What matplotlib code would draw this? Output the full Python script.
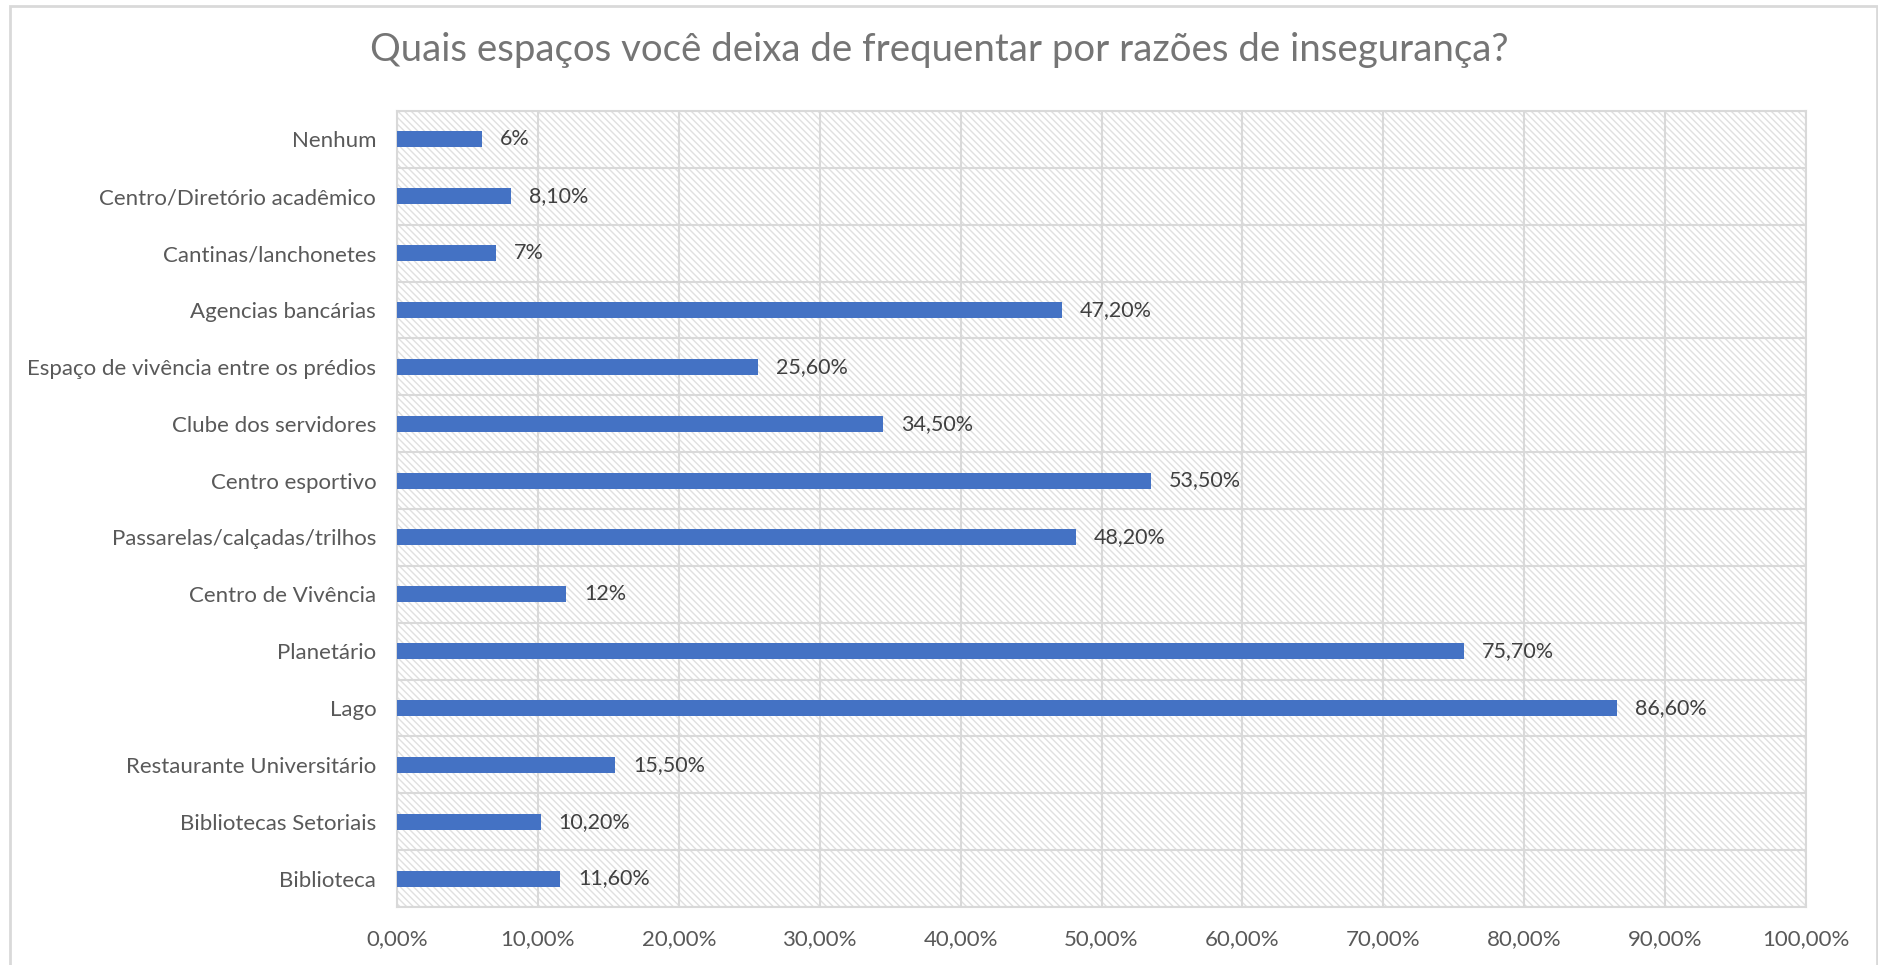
import matplotlib.pyplot as plt
from matplotlib.patches import Rectangle
import numpy as np

# dados (de baixo para cima)
categorias = ['Biblioteca', 'Bibliotecas Setoriais', 'Restaurante Universitário', 'Lago',
              'Planetário', 'Centro de Vivência', 'Passarelas/calçadas/trilhos',
              'Centro esportivo', 'Clube dos servidores', 'Espaço de vivência entre os prédios',
              'Agencias bancárias', 'Cantinas/lanchonetes', 'Centro/Diretório acadêmico', 'Nenhum']
valores = [11.6, 10.2, 15.5, 86.6, 75.7, 12, 48.2, 53.5, 34.5, 25.6, 47.2, 7, 8.1, 6]
rotulos = ['11,60%', '10,20%', '15,50%', '86,60%', '75,70%', '12%', '48,20%',
           '53,50%', '34,50%', '25,60%', '47,20%', '7%', '8,10%', '6%']
xticks = np.arange(0, 101, 10)
xlabels = ['%d,00%%' % t for t in xticks]

plt.rcParams['font.family'] = ['Lato', 'DejaVu Sans']
plt.rcParams['hatch.linewidth'] = 1.0

fig = plt.figure(figsize=(18.78, 9.65), dpi=100)
# borda externa
fig.patches.append(Rectangle((10 / 1878, -0.01), 1 - 11.5 / 1878, 1 - 6 / 965 + 0.01,
                             transform=fig.transFigure, fill=False,
                             edgecolor='#D9D9D9', lw=2))

ax = fig.add_axes([397 / 1878, 1 - 907 / 965, 1409 / 1878, 796 / 965])
y = np.arange(len(categorias))

# fundo hachurado
ax.add_patch(Rectangle((0, 0), 1, 1, transform=ax.transAxes, facecolor='white',
                       hatch='\\' * 5, edgecolor='#E0E0E0', lw=0, zorder=0))

ax.barh(y, valores, height=0.28, color='#4472C4', zorder=3)
for yi, v, r in zip(y, valores, rotulos):
    ax.annotate(r, (v, yi), xytext=(13, 0), textcoords='offset points',
                va='center', ha='left', fontsize=15.5, color='#404040')

ax.set_xlim(0, 100)
ax.set_ylim(-0.5, len(categorias) - 0.5)
ax.set_xticks(xticks)
ax.set_xticklabels(xlabels)
ax.set_yticks(y)
ax.set_yticklabels(categorias)
ax.set_yticks(np.arange(-0.5, len(categorias), 1), minor=True)
ax.tick_params(axis='both', which='both', length=0, labelsize=16, colors='#595959')
ax.tick_params(axis='y', pad=15)
ax.tick_params(axis='x', pad=16)
ax.grid(axis='x', which='major', color='#D9D9D9', lw=1.5, zorder=1)
ax.grid(axis='y', which='minor', color='#D9D9D9', lw=1.5, zorder=1)
ax.grid(axis='y', which='major', visible=False)
for s in ax.spines.values():
    s.set_color('#D9D9D9')
    s.set_linewidth(1.5)
ax.set_axisbelow(True)

fig.text(0.5, 1 - 50 / 965, 'Quais espaços você deixa de frequentar por razões de insegurança?',
         ha='center', va='center', fontsize=27.6, color='#757575')

fig.savefig('out.png', dpi=100)
